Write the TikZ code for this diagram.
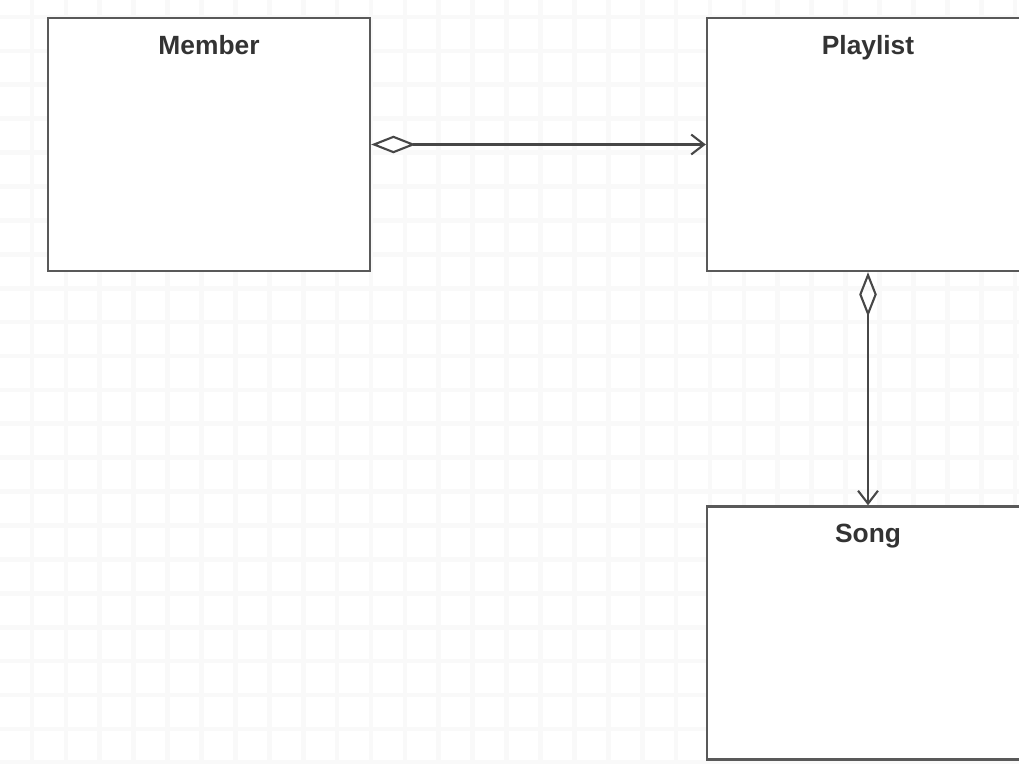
\documentclass[tikz,border=0pt]{standalone}
\usepackage{fontspec}
\setmainfont{Liberation Sans}
\usetikzlibrary{positioning,arrows.meta}

\tikzset{
    classbox/.style = {draw = black!65, line width = 2pt, fill = white, rectangle,
        minimum width = 9.66cm, minimum height = 7.59cm, inner sep = 0pt},
    classtitle/.style = {font = \fontsize{22.5}{26}\selectfont\bfseries, text = black!80, inner sep = 0pt},
    assoc/.style = {draw = black!72, line width = 2pt,
        {Diamond[open, length = 38pt, width = 15pt, line width = 1.8pt]}-{Straight Barb[length = 11pt, width = 17pt, line width = 1.8pt]}},
}

\begin{document}
\begin{tikzpicture}[x = 0.03cm, y = -0.03cm]
        \useasboundingbox (0,0) rectangle (1019,763);
        \clip (0,0) rectangle (1019,763);

        % background grid
        \foreach \k in {-1,...,29}
            \draw [black!2.5, line width = 4pt] ({32 + 33.9*\k}, -10) -- ({32 + 33.9*\k}, 780);
        \foreach \k in {-1,...,23}
            \draw [black!2.5, line width = 4pt] (-10, {17 + 33.9*\k}) -- (1030, {17 + 33.9*\k});

        \node [classbox] (member) at (209, 144.5) {};
        \node [classbox] (playlist) at (868, 144.5) {};
        \node [classbox] (song) at (868, 633) {};

        \node [classtitle, below = 16pt of member.north] (membertitle) {Member};
        \node [classtitle, below = 16pt of playlist.north] (playlisttitle) {Playlist};
        \node [classtitle, below = 16pt of song.north] (songtitle) {Song};

        \draw [assoc] (member.east) -- (playlist.west);
        \draw [assoc] (playlist.south) -- (song.north);
    \end{tikzpicture}
\end{document}
